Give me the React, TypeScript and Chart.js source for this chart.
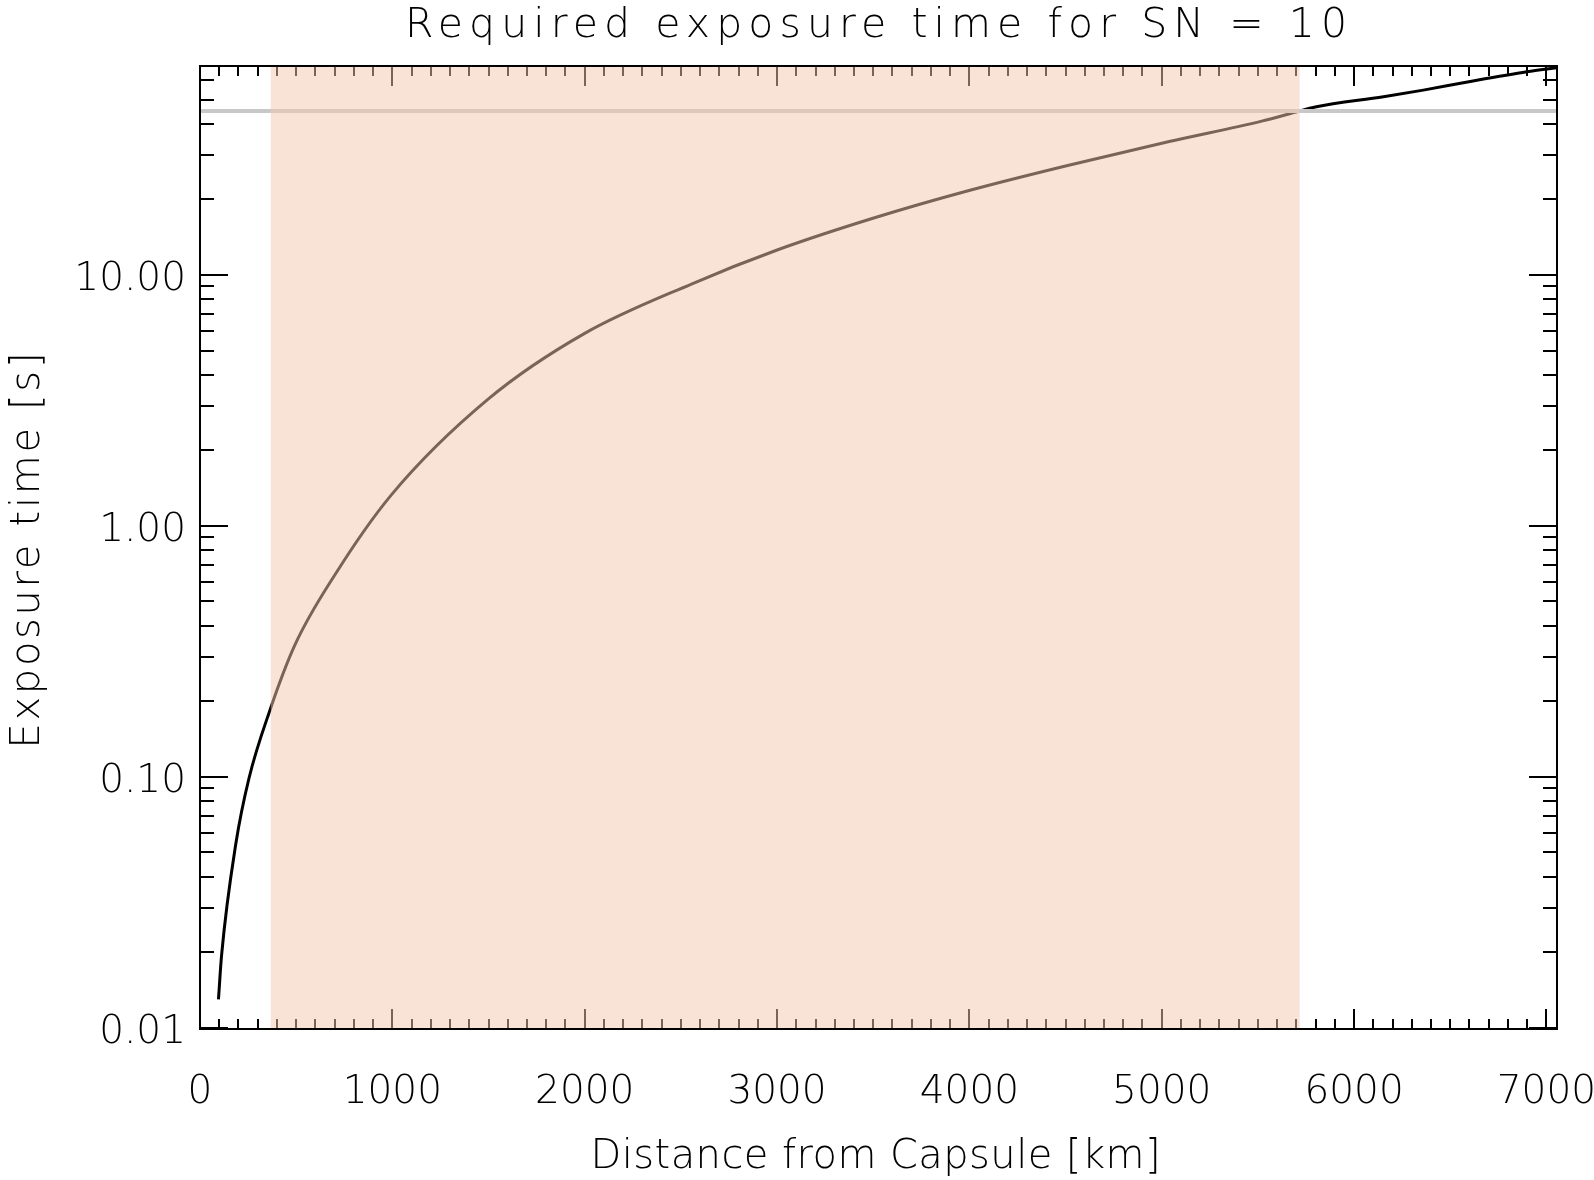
import React, { useEffect, useRef } from 'react';
import { Chart, registerables } from 'chart.js';

Chart.register(...registerables);

const TITLE = 'Required exposure time for SN = 10';
const X_TITLE = 'Distance from Capsule [km]';
const Y_TITLE = 'Exposure time [s]';

const DISTANCE_KM = [96, 112, 186, 255, 361, 493, 705, 995, 1498, 2000, 2555, 3004, 3507, 4008, 4511, 5039, 5520, 5717, 5798, 6153, 6360, 6604, 6899, 7055];
const EXPOSURE_S = [0.013, 0.0194, 0.054, 0.099, 0.182, 0.335, 0.645, 1.33, 3.2, 5.85, 9.2, 12.6, 16.9, 21.8, 27.3, 34.0, 41.0, 45.0, 46.7, 51.3, 54.5, 59.0, 64.5, 67.0];

const THRESHOLD_S = 45;
const SHADE_RANGE_KM = [368, 5717];

const X_RANGE = [0, 7055];
const Y_RANGE = [0.0099, 68];
const X_MAJOR_TICKS = [0, 1000, 2000, 3000, 4000, 5000, 6000, 7000];
const X_MINOR_STEP = 100;
const Y_MAJOR_TICKS = [0.01, 0.1, 1, 10];
const Y_TICK_LABELS = ['0.01', '0.10', '1.00', '10.00'];

const FAMILY = '"DejaVu Sans", "Liberation Sans", sans-serif';

function spacedText(ctx: any, text: string, targetWidth: number, x: number, y: number) {
  ctx.letterSpacing = '0px';
  const w = ctx.measureText(text).width;
  const sp = (targetWidth - w) / (text.length - 1);
  ctx.letterSpacing = `${sp}px`;
  ctx.textAlign = 'left';
  ctx.fillText(text, x - targetWidth / 2, y);
  ctx.letterSpacing = '0px';
}

const idlPlugin = {
  id: 'idlAxes',
  afterDatasetsDraw(chart: any) {
    const { ctx, chartArea: a, scales } = chart;
    const x = scales.x;
    const y = scales.y;
    ctx.save();
    ctx.strokeStyle = '#000';
    ctx.lineWidth = 2;
    ctx.beginPath();
    for (let v = X_RANGE[0]; v <= X_RANGE[1]; v += X_MINOR_STEP) {
      const len = X_MAJOR_TICKS.includes(v) ? 20 : 10;
      const px = Math.round(x.getPixelForValue(v));
      ctx.moveTo(px, a.bottom);
      ctx.lineTo(px, a.bottom - len);
      ctx.moveTo(px, a.top);
      ctx.lineTo(px, a.top + len);
    }
    for (let d = -3; d <= 2; d++) {
      for (let m = 1; m <= 9; m++) {
        const v = m * Math.pow(10, d);
        if (v < Y_RANGE[0] || v > Y_RANGE[1]) continue;
        const len = m === 1 ? 28 : 14;
        const py = Math.round(y.getPixelForValue(v));
        ctx.moveTo(a.left, py);
        ctx.lineTo(a.left + len, py);
        ctx.moveTo(a.right, py);
        ctx.lineTo(a.right - len, py);
      }
    }
    ctx.stroke();

    // translucent shaded band
    const x0 = x.getPixelForValue(SHADE_RANGE_KM[0]);
    const x1 = x.getPixelForValue(SHADE_RANGE_KM[1]);
    ctx.fillStyle = 'rgba(244, 200, 176, 0.5)';
    ctx.fillRect(x0, a.top + 1, x1 - x0, a.bottom - a.top - 2);

    // frame
    ctx.strokeRect(a.left, a.top, a.right - a.left, a.bottom - a.top);

    // titles
    ctx.fillStyle = '#000';
    ctx.textBaseline = 'alphabetic';
    ctx.font = `200 41px ${FAMILY}`;
    spacedText(ctx, TITLE, 942, 876, 37);

    ctx.font = `200 40px ${FAMILY}`;
    spacedText(ctx, X_TITLE, 570, (a.left + a.right) / 2 - 3, 1168);

    ctx.save();
    ctx.translate(39, (a.top + a.bottom) / 2 + 3);
    ctx.rotate(-Math.PI / 2);
    spacedText(ctx, Y_TITLE, 396, 0, 0);
    ctx.restore();

    ctx.restore();
  },
};

export default function App() {
  const ref = useRef<HTMLCanvasElement | null>(null);

  useEffect(() => {
    if (!ref.current) return;
    const tickFont = { family: FAMILY, size: 39, weight: '200' as any };
    const chart = new Chart(ref.current, {
      type: 'line',
      data: {
        datasets: [
          {
            label: 'Threshold',
            data: X_RANGE.map((v) => ({ x: v, y: THRESHOLD_S })),
            borderColor: '#c8c8c8',
            borderWidth: 4,
            pointRadius: 0,
            order: 0,
          },
          {
            label: 'Exposure time',
            data: DISTANCE_KM.map((d, i) => ({ x: d, y: EXPOSURE_S[i] })),
            borderColor: '#000',
            borderWidth: 3,
            pointRadius: 0,
            cubicInterpolationMode: 'monotone',
            order: 1,
          },
        ],
      },
      options: {
        responsive: false,
        devicePixelRatio: 1,
        animation: false,
        layout: { padding: { top: 66, right: 37, left: 0, bottom: 0 } },
        plugins: {
          legend: { display: false },
          tooltip: { enabled: false },
          title: { display: false },
        },
        scales: {
          x: {
            type: 'linear',
            min: X_RANGE[0],
            max: X_RANGE[1],
            grid: { display: false, drawTicks: false },
            border: { display: false },
            afterBuildTicks: (s: any) => {
              s.ticks = X_MAJOR_TICKS.map((v) => ({ value: v }));
            },
            afterFit: (s: any) => {
              s.height = 151;
              s.paddingLeft = 0;
              s.paddingRight = 0;
            },
            ticks: {
              autoSkip: false,
              maxRotation: 0,
              padding: 40,
              color: '#000',
              font: tickFont,
              callback: (v: any) => String(v),
            },
            title: { display: false, text: X_TITLE },
          },
          y: {
            type: 'logarithmic',
            min: Y_RANGE[0],
            max: Y_RANGE[1],
            grid: { display: false, drawTicks: false },
            border: { display: false },
            afterBuildTicks: (s: any) => {
              s.ticks = Y_MAJOR_TICKS.map((v) => ({ value: v }));
            },
            afterFit: (s: any) => {
              s.width = 200;
              s.paddingTop = 0;
              s.paddingBottom = 0;
            },
            ticks: {
              autoSkip: false,
              padding: 14,
              labelOffset: 5,
              color: '#000',
              font: tickFont,
              callback: (_v: any, i: number) => Y_TICK_LABELS[i],
            },
            title: { display: false, text: Y_TITLE },
          },
        },
      },
      plugins: [idlPlugin],
    });
    return () => chart.destroy();
  }, []);

  return (
    <div style={{ position: 'absolute', left: 0, top: 0, width: 1594, height: 1180, background: '#fff' }}>
      <canvas ref={ref} width={1594} height={1180} style={{ display: 'block' }} />
    </div>
  );
}
